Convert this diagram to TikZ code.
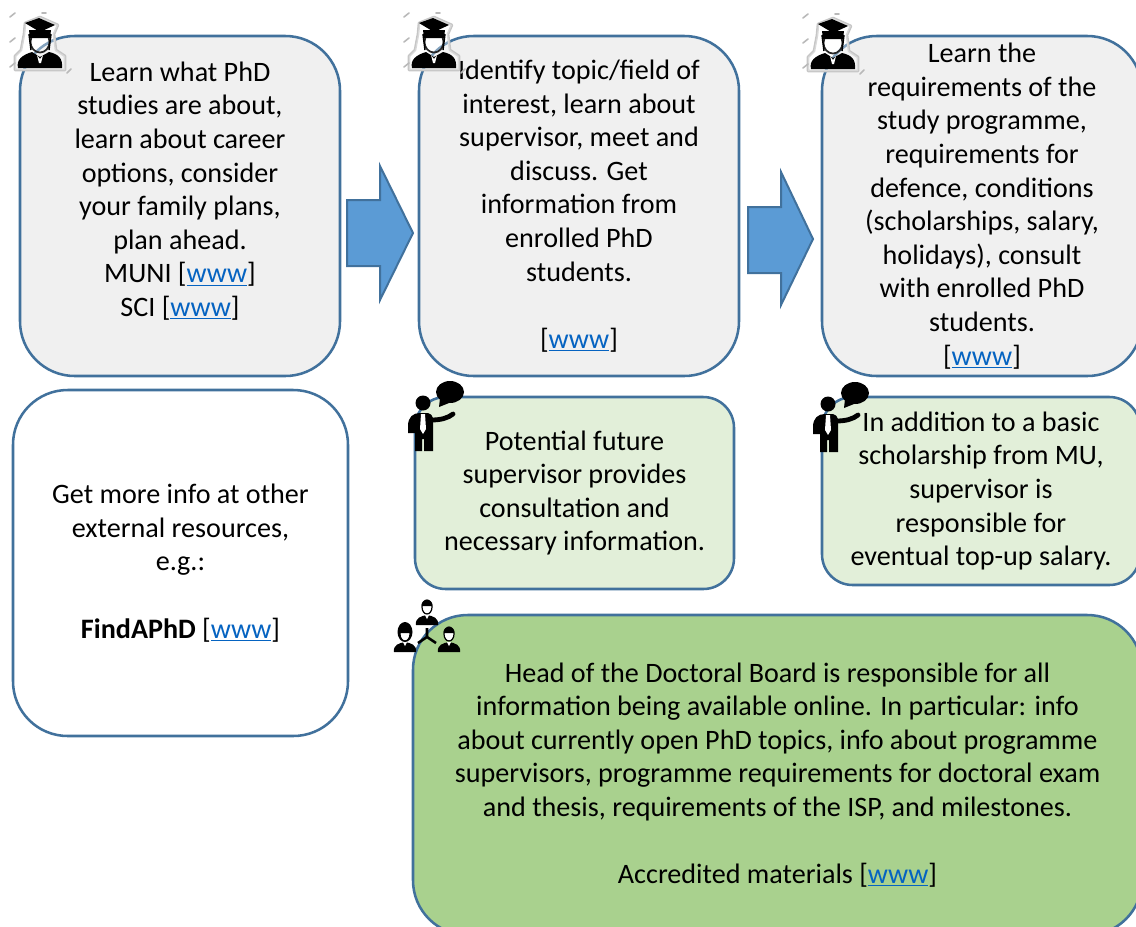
\documentclass[tikz,border=0pt]{standalone}
\usepackage{fontspec}
\setmainfont{Carlito}
\definecolor{boxline}{HTML}{41719C}
\definecolor{boxgrey}{HTML}{F0F0F0}
\definecolor{palegreen}{HTML}{E2EFD9}
\definecolor{deepgreen}{HTML}{A9D18E}
\definecolor{arrowblue}{HTML}{5B9BD5}
\definecolor{linkblue}{HTML}{0563C1}
\newcommand{\wwwlink}{[{\color{linkblue}\underline{www}}]}
\tikzset{
  gradicon/.pic={
    % grey fringe
    \draw [gray!45,line width=2pt,line join=round] (-12,-19) -- (-13,-8) -- (-16,8) -- (-22,14) -- (-22,28) -- (28,28) -- (28,14) -- (19,8) -- (17,-8) -- (21,-17) -- (3,-25) -- cycle;
    \fill [white,opacity=0.35] (-12,-19) -- (-13,-8) -- (-16,8) -- (-22,14) -- (-22,28) -- (28,28) -- (28,14) -- (19,8) -- (17,-8) -- (21,-17) -- (3,-25) -- cycle;
    \draw [gray!55,line width=1.2pt,line cap=round] (-27,-25) -- (-22,-29) (-27,0) -- (-22,-4) (-27,25) -- (-22,21) (5,-29) -- (9,-29) (30,31) -- (34,27);
    % shoulders
    \fill [black] (-19,26) .. controls (-21,18) and (-15,13) .. (-5,10) -- (3,15) -- (12,10) .. controls (21,12) and (26,16) .. (25,26) -- cycle;
    \fill [white] (0,13) -- (3,17) -- (6,13) -- (4,21) -- (2,21) -- cycle;
    % face and hair
    \draw [black!85,line width=1.3pt] (3,0) ellipse (9.5 and 10.5);
    \fill [black] (-8,-12) -- (14,-12) -- (13,-4) -- (-7,-4) -- cycle;
    \draw [black,line width=1.1pt] (-8,-8) -- (-6,8) (14,-8) -- (12,8);
    % cap
    \fill [black] (-12,-19) -- (2,-24) -- (18,-17) -- (3,-10) -- cycle;
  },
  speakericon/.pic={
    \fill [black] (0,0) circle (7.5);
    \fill [black] (27,-11) ellipse (14 and 11);
    \fill [black] (17,-5) -- (16,4) -- (26,0) -- cycle;
    \fill [black] (-15,23) .. controls (-15,14) and (-10,10) .. (-3,10) -- (5,10) .. controls (8,10) and (9,13) .. (10,15) -- (10,48) -- (1,48) -- (1,36) -- (-1,36) -- (-1,48) -- (-8,48) -- (-8,30) -- (-15,30) -- cycle;
    \draw [black,line width=3.6pt,line cap=round] (8,17) .. controls (18,17) and (25,15) .. (30,11);
    \fill [white] (-2,11) -- (2,11) -- (3,26) -- (0,31) -- (-3,26) -- cycle;
  },
  personicon/.pic={
    \fill [black] (-11,18) .. controls (-12,11) and (-6,9) .. (0,8) .. controls (6,9) and (12,11) .. (11,18) -- cycle;
    \fill [white] (-2,8) -- (2,8) -- (0,12) -- cycle;
    \draw [black,line width=0.9pt,fill=white] (0,0) ellipse (5 and 7);
    \fill [black] (-5.5,-1) .. controls (-6,-9) and (6,-9) .. (5.5,-1) -- cycle;
  }
}
\begin{document}
\begin{tikzpicture}[x=0.75pt,y=-0.75pt]
    \tikzstyle{every node}=[inner sep=0pt,align=center,font=\fontsize{21.1}{25.2}\selectfont,execute at begin node=\rule{0pt}{18pt}]
    \tikzstyle{card}=[draw=boxline,line width=1.9pt,fill=boxgrey]
    \tikzstyle{bigcard}=[card,minimum width=240pt,minimum height=255pt,rounded corners=41pt]
    \tikzstyle{greencard}=[card,fill=palegreen,rounded corners=23pt]
    \tikzstyle{bluearrow}=[draw=boxline,line width=1.5pt,fill=arrowblue,line join=miter]
    \path [use as bounding box] (0,0) rectangle (1136,926);
    \clip (0,0) rectangle (1136,926);
    % top row
    \node [bigcard] (learnphd) at (180,206) {Learn what PhD\\studies are about,\\learn about career\\options, consider\\your family plans,\\plan ahead.\\MUNI \wwwlink\\SCI \wwwlink\\\mbox{}};
    \node [bigcard] (findtopic) at (579,206) {Identify topic/field of\\interest, learn about\\supervisor, meet and\\discuss. Get\\information from\\enrolled PhD\\students.\\\mbox{}\\\wwwlink};
    \node [bigcard] (learnreq) at (982,206) {Learn the\\requirements of the\\study programme,\\requirements for\\defence, conditions\\(scholarships, salary,\\holidays), consult\\with enrolled PhD\\students.\\\wwwlink};
    % lower boxes
    \node [bigcard,fill=white,minimum width=251.25pt,minimum height=259.5pt] (external) at (180.5,563) {Get more info at other\\external resources,\\e.g.:\\\mbox{}\\\textbf{FindAPhD} \wwwlink};
    \node [greencard,minimum width=239.25pt,minimum height=144pt] (consult) at (574.5,493) {Potential future\\supervisor provides\\consultation and\\necessary information.};
    \node [greencard,minimum width=238.5pt,minimum height=141pt] (topup) at (981,491) {In addition to a basic\\scholarship from MU,\\supervisor is\\responsible for\\eventual top-up salary.};
    \node [bigcard,fill=deepgreen,minimum width=546.75pt,minimum height=240pt] (board) at (777.5,775) {Head of the Doctoral Board is responsible for all\\information being available online. In particular: info\\about currently open PhD topics, info about programme\\supervisors, programme requirements for doctoral exam\\and thesis, requirements of the ISP, and milestones.\\\mbox{}\\Accredited materials \wwwlink};
    % block arrows
    \draw [bluearrow] (347,200) -- (380,200) -- (380,166) -- (413,233) -- (380,300) -- (380,266) -- (347,266) -- cycle;
    \draw [bluearrow] (748,207) -- (781,207) -- (781,172) -- (813,239) -- (781,305) -- (781,273) -- (748,273) -- cycle;
    % icons
    \pic (hatA) at (37,42) {gradicon};
    \pic (hatB) at (431,42) {gradicon};
    \pic (hatC) at (830,43) {gradicon};
    \pic (talkE) at (423,403) {speakericon};
    \pic (talkF) at (828,404) {speakericon};
    \fill [black] (405,632) ellipse (7.5 and 10);
    \pic (headT) at (427,607) {personicon};
    \pic (headL) at (405,634) {personicon};
    \pic (headR) at (449,634) {personicon};
    \draw [black,line width=1.9pt] (427,637) -- (427,628) (427,637) -- (418,643) (427,637) -- (436,643);
\end{tikzpicture}
\end{document}
